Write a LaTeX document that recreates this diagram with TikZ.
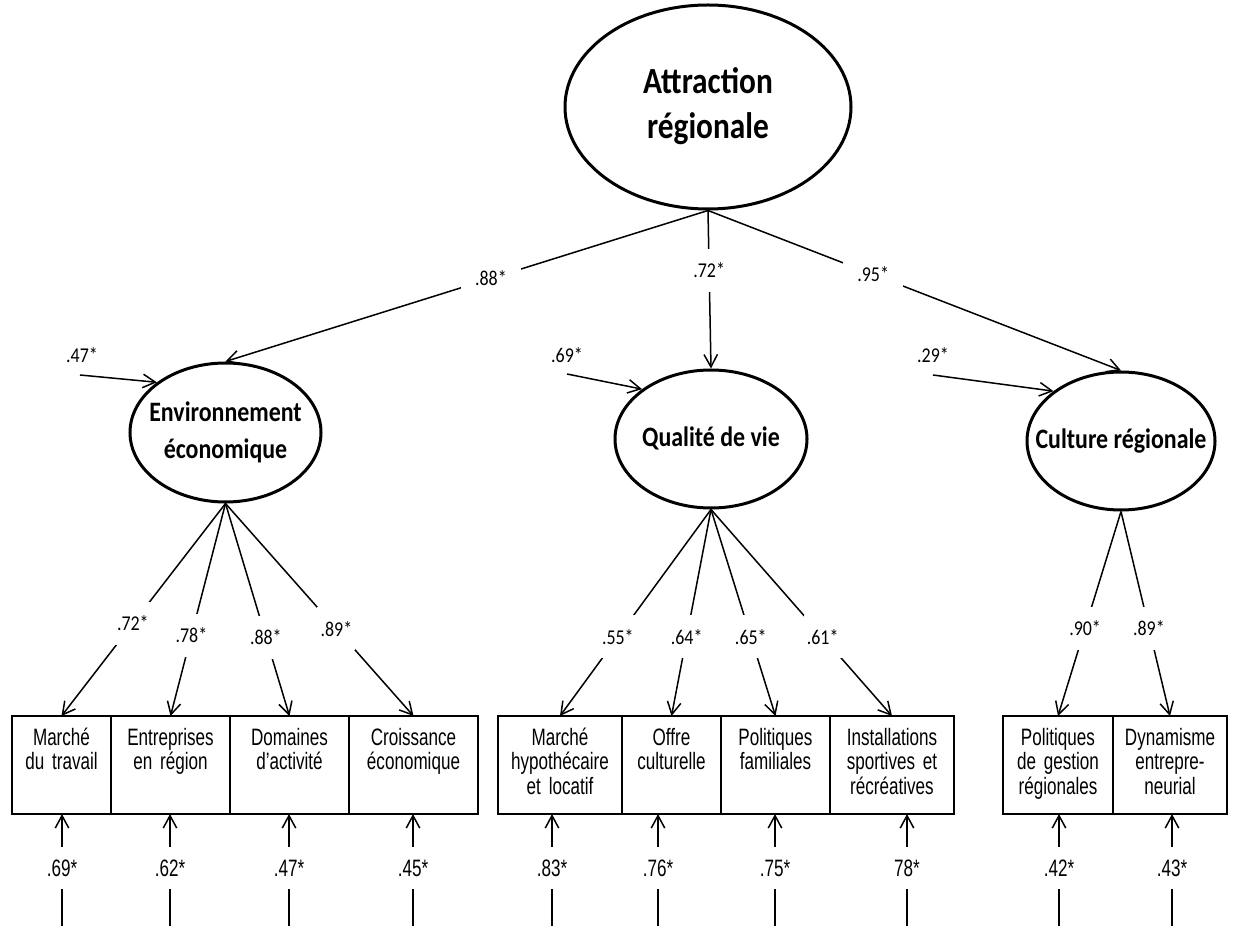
\documentclass[tikz,border=0pt]{standalone}
\usepackage{fontspec}
\newfontfamily\calfont[FakeStretch=0.85]{Carlito}
\newfontfamily\arlfont[FakeStretch=0.72]{Liberation Sans}
\usetikzlibrary{arrows.meta,positioning,shapes.geometric}
\newcommand{\lvname}[1]{\makebox[0pt]{\begin{tabular}{@{}c@{}}#1\end{tabular}}}
\newcommand{\obsfont}{\arlfont\fontsize{13.5}{14.2}\selectfont\fontdimen2\font=0.2em\relax}
\tikzset{
  lat/.style={ellipse,draw,line width=0.6mm,inner sep=0pt,minimum width=38.2mm,minimum height=27.8mm,font=\calfont\bfseries\fontsize{16}{21}\selectfont},
  obs/.style={rectangle,draw,line width=0.35mm,inner sep=0pt,outer sep=0pt,align=center,text height=5.8mm,text depth=13.8mm,font=\obsfont},
  coef/.style={fill=white,inner sep=0pt,minimum width=7.6mm,minimum height=8.6mm,font=\calfont\fontsize{12}{13}\selectfont},
  ecoef/.style={inner sep=0pt,minimum height=8.4mm,font=\arlfont\fontsize{13.5}{14}\selectfont},
  re/.style={-{Straight Barb[length=2.5mm,width=2.7mm]},line width=0.3mm},
  pe/.style={line width=0.3mm}
}

\begin{document}
\begin{tikzpicture}[x=0.2mm,y=-0.2mm]
\useasboundingbox (0,0) rectangle (1238,928);
% latent variables
\node[lat,minimum width=57.2mm,minimum height=40.8mm,font=\calfont\bfseries\fontsize{21}{26}\selectfont] (AR) at (708,107) {\lvname{Attraction\\régionale}};
\node[lat] (EE) at (225.5,432.5) {\lvname{Environnement\\économique}};
\node[lat,minimum width=38.4mm,minimum height=27.6mm] (QV) at (711,439) {\lvname{Qualité de vie}};
\node[lat,minimum width=37.6mm,minimum height=27.6mm] (CR) at (1121,441) {\lvname{Culture régionale}};

% indicators
\node[obs,text width=19.8mm,anchor=north west] (MT) at (12,716) {Marché\\du travail};
\node[obs,text width=23.8mm,right=0pt of MT] (ER) {Entreprises\\en région};
\node[obs,text width=23.8mm,right=0pt of ER] (DA) {Domaines\\d’activité};
\node[obs,text width=25.8mm,right=0pt of DA] (CE) {Croissance\\économique};
\node[obs,text width=24.8mm,anchor=north west] (MH) at (498,716) {Marché\\hypothécaire\\et locatif};
\node[obs,text width=19.8mm,right=0pt of MH] (OC) {Offre\\culturelle};
\node[obs,text width=21.8mm,right=0pt of OC] (PF) {Politiques\\familiales};
\node[obs,text width=24.8mm,right=0pt of PF] (IS) {Installations\\sportives et\\récréatives};
\node[obs,text width=22mm,anchor=north west] (PG) at (1003,716) {Politiques\\de gestion\\régionales};
\node[obs,text width=22.8mm,right=0pt of PG] (DE) {Dynamisme\\entrepre-\\neurial};

% second order paths
\draw[re] (AR.south) -- node[coef,minimum width=12mm,pos=0.45] (s1) {.88*} (EE.north);
\draw[re] (AR.south) -- node[coef,pos=0.38] (s2) {.72*} (QV.north);
\draw[re] (AR.south) -- node[coef,minimum width=12mm,pos=0.40] (s3) {.95*} (CR.north);

% disturbances
\node[coef] (d1) at (82,355) {.47*};
\node[coef] (d2) at (567,355) {.69*};
\node[coef] (d3) at (933,355) {.29*};
\coordinate (d1s) at (80,375);
\coordinate (d2s) at (567,374);
\coordinate (d3s) at (933,375);
\draw[re] (d1s) -- (EE.north west);
\draw[re] (d2s) -- (QV.north west);
\draw[re] (d3s) -- (CR.north west);

% loadings
\draw[re] (EE.south) -- node[coef,pos=0.565] (l1) {.72*} (MT.north);
\draw[re] (EE.south) -- node[coef,pos=0.62] (l2) {.78*} (ER.north);
\draw[re] (EE.south) -- node[coef,pos=0.63] (l3) {.88*} (DA.north);
\draw[re] (EE.south) -- node[coef,pos=0.59] (l4) {.89*} (CE.north);
\draw[re] (QV.south) -- node[coef,pos=0.617] (l5) {.55*} (MH.north);
\draw[re] (QV.south) -- node[coef,pos=0.617] (l6) {.64*} (OC.north);
\draw[re] (QV.south) -- node[coef,pos=0.617] (l7) {.65*} (PF.north);
\draw[re] (QV.south) -- node[coef,pos=0.617] (l8) {.61*} (IS.north);
\draw[re] (CR.south) -- node[coef,pos=0.57] (l9) {.90*} (PG.north);
\draw[re] (CR.south) -- node[coef,pos=0.57] (l10) {.89*} (DE.north);

% measurement errors
\node[ecoef] (e1) at (62,868) {.69*};
\node[ecoef] (e2) at (170,868) {.62*};
\node[ecoef] (e3) at (289,868) {.47*};
\node[ecoef] (e4) at (413,868) {.45*};
\node[ecoef] (e5) at (552,868) {.83*};
\node[ecoef] (e6) at (658,868) {.76*};
\node[ecoef] (e7) at (775,868) {.75*};
\node[ecoef] (e8) at (907,868) {78*};
\node[ecoef] (e9) at (1059,868) {.42*};
\node[ecoef] (e10) at (1172,868) {.43*};
\coordinate (f1) at (62,926);
\coordinate (f2) at (170,926);
\coordinate (f3) at (289,926);
\coordinate (f4) at (413,926);
\coordinate (f5) at (552,926);
\coordinate (f6) at (658,926);
\coordinate (f7) at (775,926);
\coordinate (f8) at (907,926);
\coordinate (f9) at (1059,926);
\coordinate (f10) at (1172,926);
\draw[re] (e1) -- (e1 |- MT.south);
\draw[re] (e2) -- (e2 |- ER.south);
\draw[re] (e3) -- (e3 |- DA.south);
\draw[re] (e4) -- (e4 |- CE.south);
\draw[re] (e5) -- (e5 |- MH.south);
\draw[re] (e6) -- (e6 |- OC.south);
\draw[re] (e7) -- (e7 |- PF.south);
\draw[re] (e8) -- (e8 |- IS.south);
\draw[re] (e9) -- (e9 |- PG.south);
\draw[re] (e10) -- (e10 |- DE.south);
\draw[pe] (e1) -- (f1);
\draw[pe] (e2) -- (f2);
\draw[pe] (e3) -- (f3);
\draw[pe] (e4) -- (f4);
\draw[pe] (e5) -- (f5);
\draw[pe] (e6) -- (f6);
\draw[pe] (e7) -- (f7);
\draw[pe] (e8) -- (f8);
\draw[pe] (e9) -- (f9);
\draw[pe] (e10) -- (f10);
\end{tikzpicture}
\end{document}
